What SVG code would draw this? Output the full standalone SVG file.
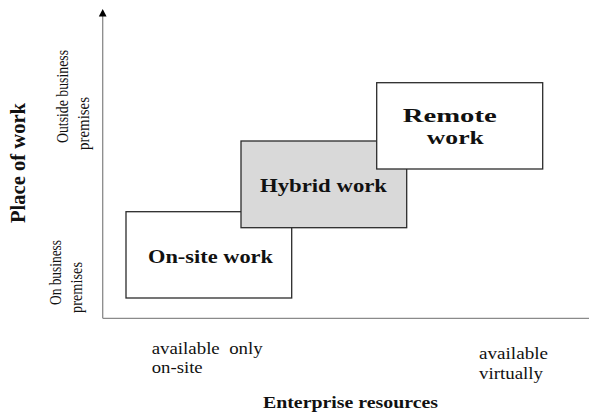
<svg xmlns="http://www.w3.org/2000/svg" width="589" height="412" viewBox="0 0 589 412">
  <style>
    .box { stroke: #2b2b2b; stroke-width: 1.3; }
    .axis { stroke: #8a8a8a; stroke-width: 1.3; fill: none; }
    text { font-family: "Liberation Serif", "Times New Roman", serif; fill: #111; }
    .lbl { font-weight: bold; font-size: 18px; }
    .ax { font-size: 16px; }
    .axb { font-weight: bold; font-size: 16.5px; }
    .side { font-size: 17px; }
    .sideb { font-weight: bold; font-size: 20px; }
  </style>
  <rect width="589" height="412" fill="#fff"/>

  <g id="connectors">
    <line class="axis" x1="102.7" y1="318.3" x2="589" y2="318.3"/>
    <line class="axis" x1="102.7" y1="318.3" x2="102.7" y2="16"/>
    <polygon points="102.7,9 98.8,16.5 106.6,16.5" fill="#000"/>
  </g>

  <g id="on-site">
    <rect class="box" x="126" y="211.7" width="165.7" height="86.3" fill="#fff"/>
    <text class="lbl" x="210.5" y="262.7" text-anchor="middle" textLength="125" lengthAdjust="spacingAndGlyphs">On-site work</text>
  </g>

  <g id="hybrid">
    <rect class="box" x="241" y="141" width="165.7" height="86.7" fill="#d9d9d9"/>
    <text class="lbl" x="323.5" y="192" text-anchor="middle" textLength="127" lengthAdjust="spacingAndGlyphs">Hybrid work</text>
  </g>

  <g id="remote">
    <rect class="box" x="376.7" y="82.7" width="166" height="86.3" fill="#fff"/>
    <text class="lbl" x="449.7" y="121.7" text-anchor="middle" textLength="94" lengthAdjust="spacingAndGlyphs">Remote</text>
    <text class="lbl" x="455.3" y="143.5" text-anchor="middle" textLength="57" lengthAdjust="spacingAndGlyphs">work</text>
  </g>

  <g id="axis-labels">
    <text class="ax" x="151.7" y="354" textLength="111" lengthAdjust="spacingAndGlyphs">available&#160; only</text>
    <text class="ax" x="151.7" y="373" textLength="51" lengthAdjust="spacingAndGlyphs">on-site</text>
    <text class="ax" x="479" y="358.5" textLength="69" lengthAdjust="spacingAndGlyphs">available</text>
    <text class="ax" x="479" y="378.5" textLength="64" lengthAdjust="spacingAndGlyphs">virtually</text>
    <text class="axb" x="350.5" y="407.5" text-anchor="middle" textLength="175" lengthAdjust="spacingAndGlyphs">Enterprise resources</text>

    <text class="sideb" transform="translate(25,223) rotate(-90)" textLength="120" lengthAdjust="spacingAndGlyphs">Place of work</text>
    <text class="side" transform="translate(68,143) rotate(-90)" textLength="93" lengthAdjust="spacingAndGlyphs">Outside business</text>
    <text class="side" transform="translate(88.5,150) rotate(-90)" textLength="53" lengthAdjust="spacingAndGlyphs">premises</text>
    <text class="side" transform="translate(61,305) rotate(-90)" textLength="65" lengthAdjust="spacingAndGlyphs">On business</text>
    <text class="side" transform="translate(82,313) rotate(-90)" textLength="51" lengthAdjust="spacingAndGlyphs">premises</text>
  </g>
</svg>
